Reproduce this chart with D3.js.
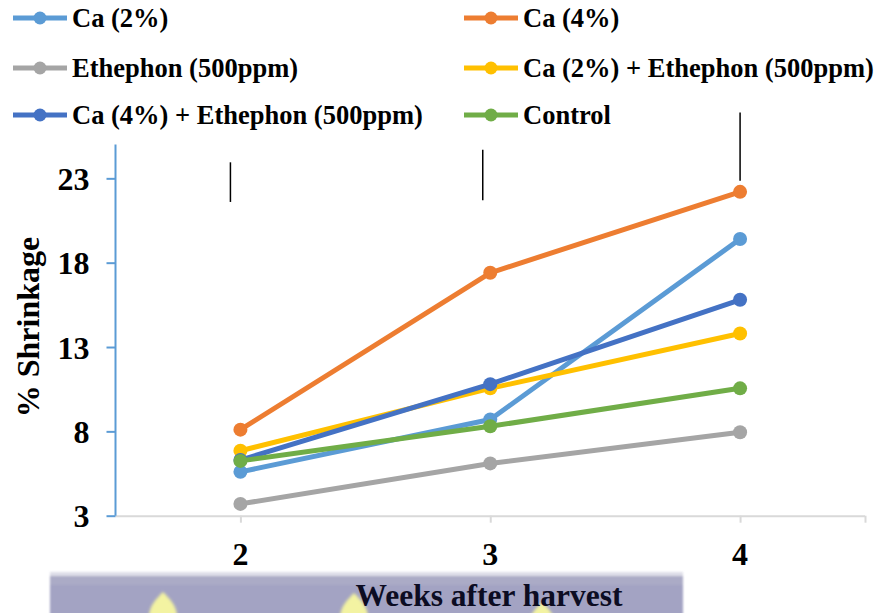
<!DOCTYPE html>
<html>
<head>
<meta charset="utf-8">
<script src="https://cdn.jsdelivr.net/npm/d3@7"></script>
<style>
  html, body { margin: 0; padding: 0; background: #fff; }
  svg { display: block; }
  text { font-family: "Liberation Serif", "Times New Roman", serif; font-weight: bold; fill: #000; }
</style>
</head>
<body>
<svg id="chart" width="882" height="613"></svg>
<script>
// Weeks after harvest (x categories)
const weeks = [2, 3, 4];

// % shrinkage for each treatment
const seriesNames = [
  "Ca (2%)",
  "Ca (4%)",
  "Ethephon (500ppm)",
  "Ca (2%) + Ethephon (500ppm)",
  "Ca (4%) + Ethephon (500ppm)",
  "Control"
];
const ca2      = [5.6, 8.7, 19.4];
const ca4      = [8.1, 17.4, 22.2];
const ethephon = [3.7, 6.1, 7.95];
const ca2Eth   = [6.85, 10.55, 13.8];
const ca4Eth   = [6.3, 10.8, 15.8];
const control  = [6.25, 8.3, 10.55];

const seriesColors = ["#5b9bd5", "#ed7d31", "#a5a5a5", "#ffc000", "#4472c4", "#70ad47"];

// Y axis ticks
const yTicks = [3, 8, 13, 18, 23];

// Vertical marker strokes above the series: [week, low, high]
const markers = [
  [1.96, 21.6, 23.95],
  [2.97, 21.7, 24.7],
  [4.0, 22.85, 26.9]
];

const series = [ca2, ca4, ethephon, ca2Eth, ca4Eth, control].map((vals, i) => ({
  name: seriesNames[i],
  color: seriesColors[i],
  values: vals.map((v, j) => ({ week: weeks[j], value: v }))
}));

const svg = d3.select("#chart");

const x = d3.scaleLinear().domain([1.5, 4.5]).range([115.5, 865]);
const y = d3.scaleLinear().domain([3, 25]).range([515.7, 144.6]);

// Title band behind the x-axis label
const defs = svg.append("defs");
defs.append("filter").attr("id", "soft")
  .append("feGaussianBlur").attr("stdDeviation", 1.6);
defs.append("filter").attr("id", "edge")
  .append("feGaussianBlur").attr("stdDeviation", 0.8);

const band = svg.append("g").attr("filter", "url(#edge)");
band.append("rect").attr("x", 50).attr("y", 572).attr("width", 633).attr("height", 45).attr("fill", "#a3a3c3");
band.append("rect").attr("x", 50).attr("y", 572).attr("width", 633).attr("height", 4).attr("fill", "#dedee8");
band.append("rect").attr("x", 50).attr("y", 576).attr("width", 633).attr("height", 9).attr("fill", "#ababc6");

const blobs = [[163, 592], [354, 593], [542, 602]];
const blobG = svg.append("g").attr("filter", "url(#soft)");
blobs.forEach(([bx, by]) => {
  blobG.append("path")
    .attr("d", `M${bx},${by} C${bx + 6},${by + 6} ${bx + 14},${by + 14} ${bx + 14},${by + 24} L${bx - 14},${by + 24} C${bx - 14},${by + 14} ${bx - 6},${by + 6} ${bx},${by} Z`)
    .attr("fill", "#f3f3a2");
});

// X axis (gray) with downward ticks
const xAxisG = svg.append("g").attr("transform", `translate(0,${y(3)})`)
  .call(d3.axisBottom(x).tickValues([2, 3, 4, 4.5]).tickSize(7).tickFormat(""));
xAxisG.select(".domain").attr("stroke", "#d9d9d9").attr("stroke-width", 2).attr("d", `M${x(1.5)},0.5H${x(4.5)}`);
xAxisG.selectAll(".tick line").attr("stroke", "#d9d9d9").attr("stroke-width", 2);

// X tick labels
svg.append("g").selectAll("text").data(weeks).join("text")
  .attr("x", d => x(d))
  .attr("y", 565)
  .attr("text-anchor", "middle")
  .attr("font-size", 32)
  .text(d => d);

// Y axis (blue) with outward ticks
const yAxisG = svg.append("g").attr("transform", `translate(${x(1.5)},0)`)
  .call(d3.axisLeft(y).tickValues(yTicks).tickSize(9).tickFormat(""));
yAxisG.select(".domain").attr("stroke", "#5b9bd5").attr("stroke-width", 2).attr("d", `M0,${y(3)}V${y(25)}`);
yAxisG.selectAll(".tick line").attr("stroke", "#5b9bd5").attr("stroke-width", 2);

svg.append("g").selectAll("text").data(yTicks).join("text")
  .attr("x", 89.5)
  .attr("y", d => y(d) + 11.5)
  .attr("text-anchor", "end")
  .attr("font-size", 32)
  .text(d => d);

// Axis titles
svg.append("text")
  .attr("transform", `translate(39,327) rotate(-90)`)
  .attr("text-anchor", "middle")
  .attr("font-size", 32)
  .text("% Shrinkage");

svg.append("text")
  .attr("x", 489)
  .attr("y", 606)
  .attr("text-anchor", "middle")
  .attr("font-size", 31.5)
  .style("fill", "#0c0c22")
  .text("Weeks after harvest");

// Vertical marker strokes
svg.append("g").selectAll("line").data(markers).join("line")
  .attr("x1", d => x(d[0])).attr("x2", d => x(d[0]))
  .attr("y1", d => y(d[1])).attr("y2", d => y(d[2]))
  .attr("stroke", "#000").attr("stroke-width", 1.5);

// Series lines and markers
const line = d3.line().x(d => x(d.week)).y(d => y(d.value));
const sg = svg.append("g").selectAll("g").data(series).join("g");
sg.append("path")
  .attr("d", d => line(d.values))
  .attr("fill", "none")
  .attr("stroke", d => d.color)
  .attr("stroke-width", 5)
  .attr("stroke-linejoin", "round");
sg.selectAll("circle").data(d => d.values.map(v => ({ ...v, color: d.color }))).join("circle")
  .attr("cx", d => x(d.week))
  .attr("cy", d => y(d.value))
  .attr("r", 7)
  .attr("fill", d => d.color);

// Legend: two columns, three rows
const legendCols = [13, 464];
const legendRows = [18, 68, 115];
const lg = svg.append("g").selectAll("g").data(series).join("g")
  .attr("transform", (d, i) => `translate(${legendCols[i % 2]},${legendRows[Math.floor(i / 2)]})`);
lg.append("line").attr("x1", 0).attr("x2", 54).attr("y1", 0).attr("y2", 0)
  .attr("stroke", d => d.color).attr("stroke-width", 5);
lg.append("circle").attr("cx", 27).attr("cy", 0).attr("r", 6.5).attr("fill", d => d.color);
lg.append("text").attr("x", 59).attr("y", 9).attr("font-size", 26.5).text(d => d.name);
</script>
</body>
</html>
